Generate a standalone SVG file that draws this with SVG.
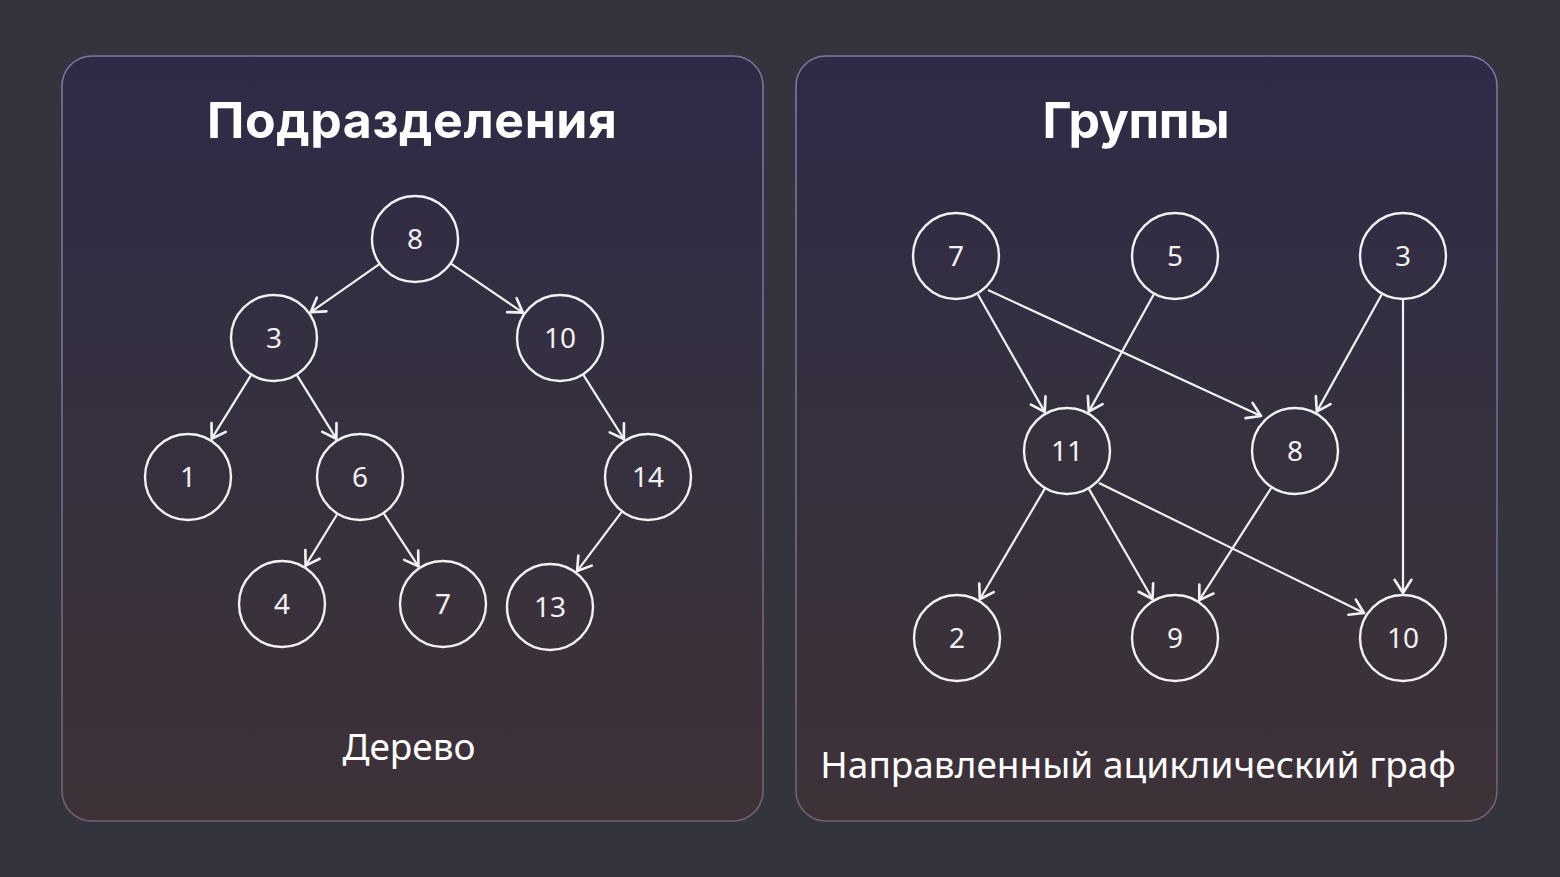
<svg xmlns="http://www.w3.org/2000/svg" width="1560" height="877" viewBox="0 0 1560 877">
<style>
.panel{stroke:url(#bord);stroke-width:1.6}
.title{font-family:Inter,"Liberation Sans",sans-serif;font-weight:700;font-size:50px;fill:#ffffff;text-anchor:middle}
.label{font-family:"Noto Sans","Open Sans",sans-serif;font-size:37px;fill:#ffffff;text-anchor:middle}
.node circle{fill:none;stroke:#f2f2f2;stroke-width:2.4}
.node text{font-family:"Noto Sans","Open Sans",sans-serif;font-size:28px;fill:#f2f2f2;text-anchor:middle}
.edges line{stroke:#f2f2f2;stroke-width:2.2;marker-end:url(#arr)}
</style>
<defs>
<linearGradient id="pfill" x1="0" y1="0" x2="0" y2="1">
<stop offset="0" stop-color="#2f2b47"/>
<stop offset="0.5" stop-color="#36303f"/>
<stop offset="1" stop-color="#3e3238"/>
</linearGradient>
<linearGradient id="bord" x1="0" y1="0" x2="0" y2="1">
<stop offset="0" stop-color="#7d76a0"/>
<stop offset="1" stop-color="#6e6274"/>
</linearGradient>
<marker id="arr" markerUnits="userSpaceOnUse" markerWidth="24" markerHeight="24" viewBox="-14 -10 16 20" refX="0" refY="0" orient="auto">
<path d="M-11,-7 L0,0 L-11,7" fill="none" stroke="#f2f2f2" stroke-width="2.2" stroke-linecap="round" stroke-linejoin="round"/>
</marker>
</defs>
<rect x="0" y="0" width="1560" height="877" fill="#33343d"/>
<g id="panel-left">
<rect class="panel" x="62" y="56" width="701" height="765" rx="30" fill="url(#pfill)"/>
<text class="title" x="412" y="138" textLength="410" lengthAdjust="spacing">Подразделения</text>
<text class="label" x="409" y="760">Дерево</text>
</g>
<g id="panel-right">
<rect class="panel" x="796" y="56" width="701" height="765" rx="30" fill="url(#pfill)"/>
<text class="title" x="1136" y="138" textLength="187" lengthAdjust="spacing">Группы</text>
<text class="label" x="1138" y="778">Направленный ациклический граф</text>
</g>
<g id="connectors" class="edges">
<line x1="379" y1="264.3" x2="310.8" y2="312.1"/>
<line x1="451.3" y1="263.8" x2="522.8" y2="312.6"/>
<line x1="250.9" y1="375.4" x2="211.7" y2="438.7"/>
<line x1="297.1" y1="375.4" x2="336.3" y2="438.7"/>
<line x1="583.5" y1="375.2" x2="623.9" y2="439"/>
<line x1="337" y1="514.5" x2="305.6" y2="565.6"/>
<line x1="384.1" y1="513.8" x2="418.4" y2="566.3"/>
<line x1="621.5" y1="512.2" x2="577.1" y2="571.1"/>
<line x1="977.8" y1="294.2" x2="1044.7" y2="411.9"/>
<line x1="988" y1="290" x2="1261" y2="416"/>
<line x1="1153.7" y1="294.5" x2="1088.8" y2="411.6"/>
<line x1="1381.7" y1="294.5" x2="1316.8" y2="411.6"/>
<line x1="1403" y1="300" x2="1403" y2="593"/>
<line x1="1044.7" y1="488.9" x2="979.8" y2="599.2"/>
<line x1="1089" y1="489.1" x2="1152.5" y2="599"/>
<line x1="1099" y1="483" x2="1364" y2="613"/>
<line x1="1271.2" y1="488" x2="1199.3" y2="600.1"/>
</g>
<g id="t8" class="node"><circle cx="415" cy="239" r="43"/><text x="415" y="249">8</text></g>
<g id="t3" class="node"><circle cx="274" cy="338" r="43"/><text x="274" y="348">3</text></g>
<g id="t10" class="node"><circle cx="560" cy="338" r="43"/><text x="560" y="348">10</text></g>
<g id="t1" class="node"><circle cx="188" cy="477" r="43"/><text x="188" y="487">1</text></g>
<g id="t6" class="node"><circle cx="360" cy="477" r="43"/><text x="360" y="487">6</text></g>
<g id="t14" class="node"><circle cx="648" cy="477" r="43"/><text x="648" y="487">14</text></g>
<g id="t4" class="node"><circle cx="282" cy="604" r="43"/><text x="282" y="614">4</text></g>
<g id="t7" class="node"><circle cx="443" cy="604" r="43"/><text x="443" y="614">7</text></g>
<g id="t13" class="node"><circle cx="550" cy="607" r="43"/><text x="550" y="617">13</text></g>
<g id="g7" class="node"><circle cx="956" cy="256" r="43"/><text x="956" y="266">7</text></g>
<g id="g5" class="node"><circle cx="1175" cy="256" r="43"/><text x="1175" y="266">5</text></g>
<g id="g3" class="node"><circle cx="1403" cy="256" r="43"/><text x="1403" y="266">3</text></g>
<g id="g11" class="node"><circle cx="1067" cy="451" r="43"/><text x="1067" y="461">11</text></g>
<g id="g8" class="node"><circle cx="1295" cy="451" r="43"/><text x="1295" y="461">8</text></g>
<g id="g2" class="node"><circle cx="957" cy="638" r="43"/><text x="957" y="648">2</text></g>
<g id="g9" class="node"><circle cx="1175" cy="638" r="43"/><text x="1175" y="648">9</text></g>
<g id="g10" class="node"><circle cx="1403" cy="638" r="43"/><text x="1403" y="648">10</text></g>
</svg>
